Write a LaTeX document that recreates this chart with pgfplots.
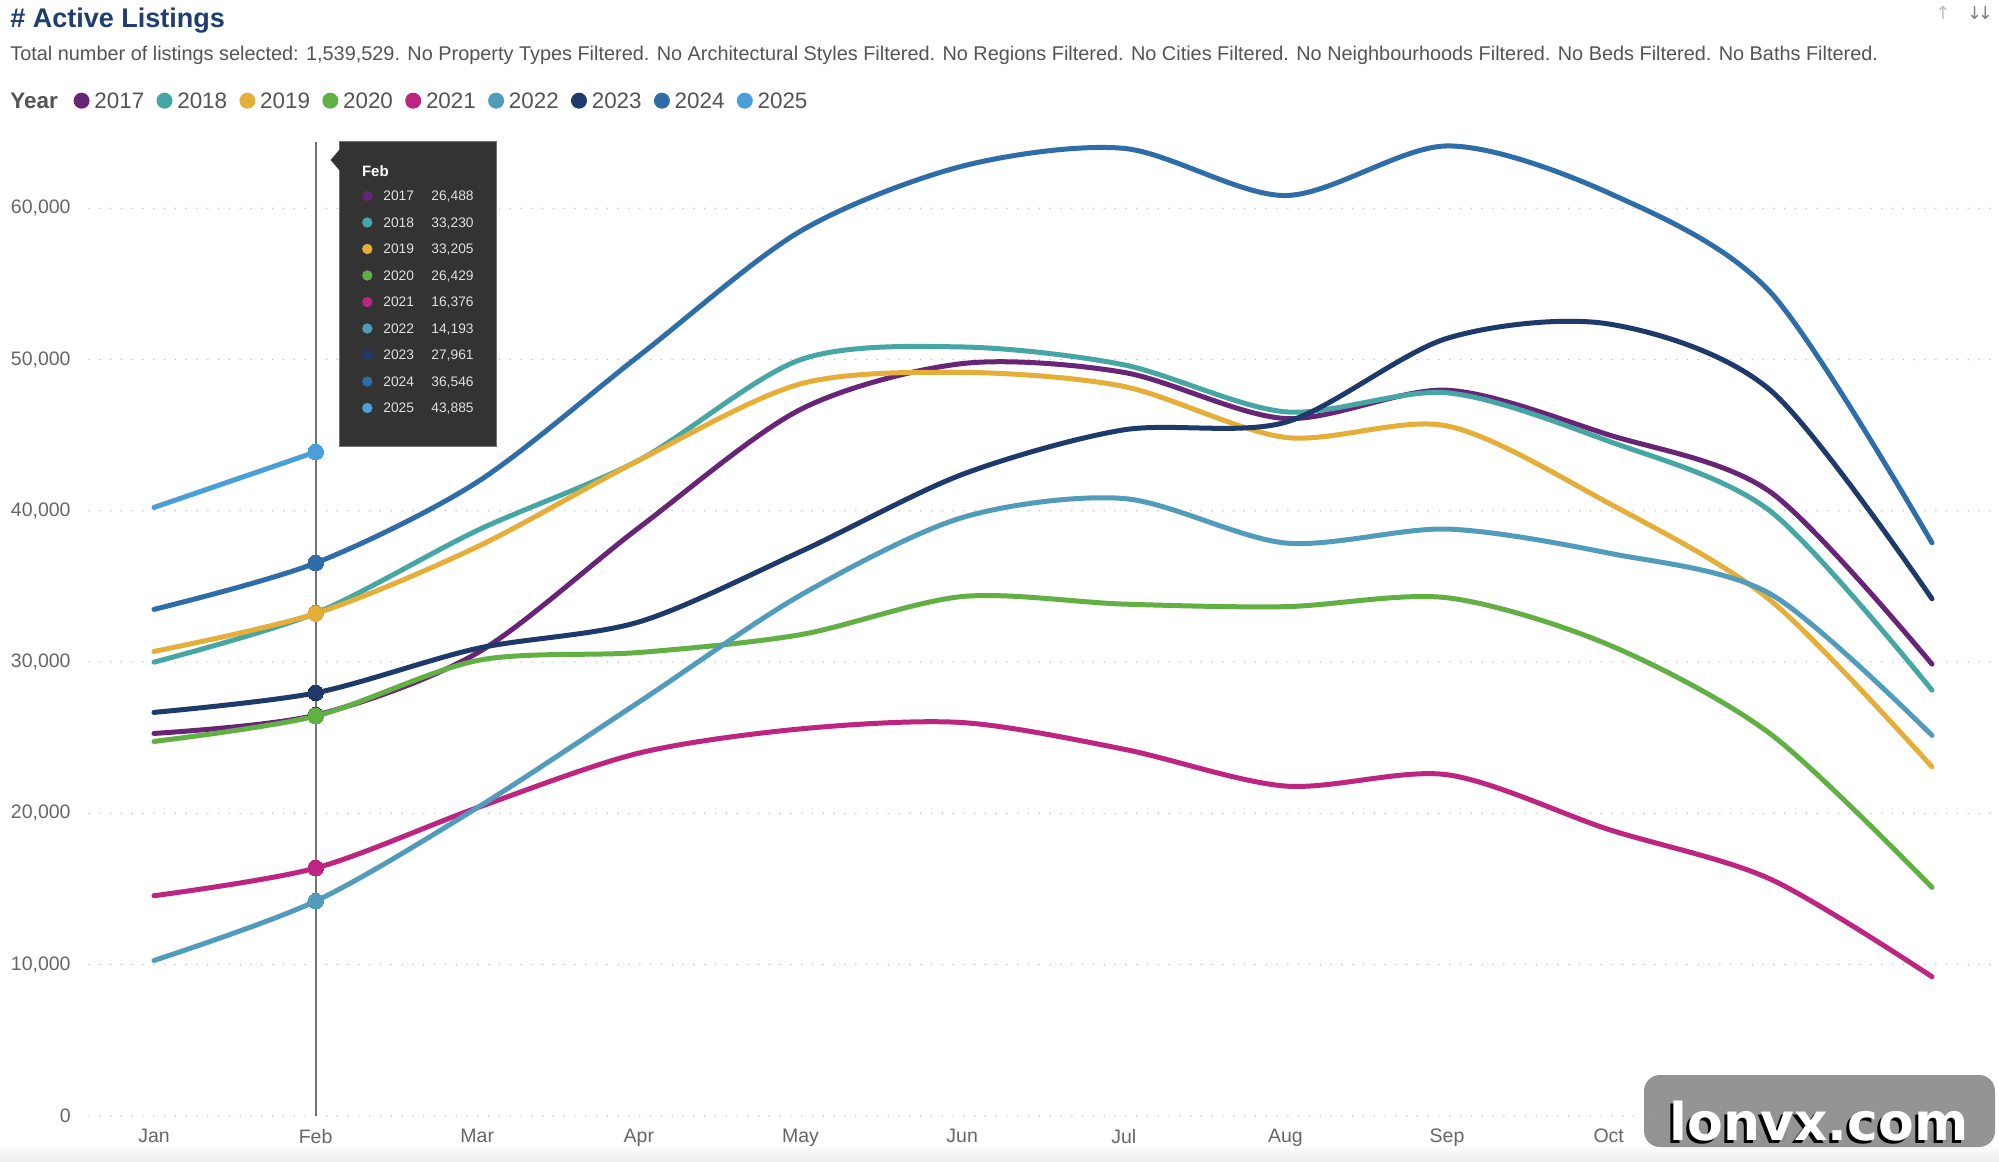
\documentclass[border=0pt]{standalone}
\usepackage{fontspec}
\setmainfont{Liberation Sans}
\newfontfamily\dejavu{DejaVu Sans}
\usepackage{pgfplots}
\usepackage{pgfplotstable}
\pgfplotsset{compat=1.18}

\definecolor{c2017}{HTML}{682477}
\definecolor{c2018}{HTML}{46A6A3}
\definecolor{c2019}{HTML}{E5AE38}
\definecolor{c2020}{HTML}{62B044}
\definecolor{c2021}{HTML}{BE2581}
\definecolor{c2022}{HTML}{519CBB}
\definecolor{c2023}{HTML}{1D3A6B}
\definecolor{c2024}{HTML}{2F6DA8}
\definecolor{c2025}{HTML}{4A9FD8}
\definecolor{titleblue}{HTML}{1F3D6E}
\definecolor{tipbg}{HTML}{333333}

% Monthly active listings, one column per year (m = month index, Jan = 0)
\pgfplotstableread{
m  y2017 y2018 y2019 y2020 y2021 y2022 y2023 y2024
0  25280 29990 30700 24750 14550 10270 26670 33480
1  26488 33230 33205 26429 16376 14193 27961 36546
2  30600 38700 37620 30100 20370 20370 30900 41900
3  38880 43340 43340 30630 23980 27350 32650 50240
4  46700 49990 48390 31810 25580 34420 37300 58490
5  49730 50830 49150 34330 26000 39550 42400 62780
6  49150 49650 48220 33830 24240 40810 45350 63960
7  46100 46540 44850 33660 21800 37870 45850 60840
8  47970 47800 45610 34250 22550 38790 51400 64120
9  45020 44600 40500 31140 18930 37200 52350 61010
10 41240 39970 34080 25250 15650 34500 47970 54450
11 29860 28140 23070 15100  9195 25150 34180 37880
}\listings

\pgfplotstableread{
m  y2025
0  40220
1  43885
}\listingsnew

\pgfplotsset{
  yearline/.style={color=#1, line width=2.5bp, line cap=round, line join=round,
    smooth, mark=*, mark indices={2}, mark size=3.9bp,
    mark options={fill=#1, draw=#1, line width=0pt}},
}

\begin{document}
\begin{tikzpicture}[x=1bp,y=1bp]
\useasboundingbox (0,0) rectangle (999.5,-581);
\fill[white] (0,0) rectangle (999.5,-581);
\shade[top color=white, bottom color=black!7] (0,-572) rectangle (999.5,-581);

% header
\node[anchor=base west, inner sep=0pt, text=titleblue,
  font=\bfseries\fontsize{13.5bp}{16bp}\selectfont] at (5,-14) {\# Active Listings};
\node[anchor=base west, inner sep=0pt, text=black!67,
  font=\fontsize{9.94bp}{11bp}\selectfont] at (5,-30.25)
  {Total number of listings selected: 1,539,529. No Property Types Filtered. No Architectural Styles Filtered. No Regions Filtered. No Cities Filtered. No Neighbourhoods Filtered. No Beds Filtered. No Baths Filtered.};
\node[anchor=center, inner sep=0pt, text=black!25, font=\dejavu\fontsize{9bp}{10bp}\selectfont] at (971.5,-6.5) {↑};
\node[anchor=center, inner sep=0pt, text=black!50, font=\dejavu\fontsize{9bp}{10bp}\selectfont] at (990,-6.5) {↓\kern-2.2bp↓};

% legend row
\node[anchor=base west, inner sep=0pt, text=black!67,
  font=\bfseries\fontsize{11.2bp}{13bp}\selectfont] at (5,-54.35) {Year};
\foreach \yr [count=\k from 0] in {2017,2018,2019,2020,2021,2022,2023,2024,2025}{
  \fill[c\yr] ({40.8+41.45*\k},-50.35) circle (4bp);
  \node[anchor=base west, inner sep=0pt, text=black!67,
    font=\fontsize{11.2bp}{13bp}\selectfont] at ({47+41.45*\k},-54.35) {\yr};
}

\begin{axis}[
  at={(44.5bp,-557.9bp)}, anchor=south west, scale only axis,
  width=953bp, height=487.05bp,
  xmin=-0.402, xmax=11.39, ymin=0, ymax=64400,
  axis x line*=bottom, axis y line*=left,
  axis line style={draw=none}, tick style={draw=none},
  major tick length=0pt,
  xtick={0,...,11},
  xticklabels={Jan,Feb,Mar,Apr,May,Jun,Jul,Aug,Sep,Oct,Nov,Dec},
  ytick={0,10000,...,60000},
  scaled y ticks=false,
  /pgf/number format/1000 sep={,},
  /pgf/number format/assume math mode=true,
  ymajorgrids,
  grid style={color=black!28, line width=0.75bp, line cap=round, dash pattern=on 0bp off 5.4bp},
  yticklabel style={anchor=east, inner sep=0pt, xshift=-9bp, text=black!60,
    font=\fontsize{9.75bp}{11bp}\selectfont},
  xticklabel style={anchor=north, inner sep=0pt, yshift=-6.5bp, text=black!60,
    font=\fontsize{9.75bp}{11bp}\selectfont},
  clip=false,
]
% hover rule at February
\addplot[color=black!55, line width=1bp, forget plot] coordinates {(1,0) (1,64400)};

\addplot[yearline=c2017] table[x=m, y=y2017] {\listings};
\addplot[yearline=c2018] table[x=m, y=y2018] {\listings};
\addplot[yearline=c2019] table[x=m, y=y2019] {\listings};
\addplot[yearline=c2020] table[x=m, y=y2020] {\listings};
\addplot[yearline=c2021] table[x=m, y=y2021] {\listings};
\addplot[yearline=c2022] table[x=m, y=y2022] {\listings};
\addplot[yearline=c2023] table[x=m, y=y2023] {\listings};
\addplot[yearline=c2024] table[x=m, y=y2024] {\listings};
\addplot[yearline=c2025] table[x=m, y=y2025] {\listingsnew};
\end{axis}

% tooltip for February
\fill[tipbg, draw=black!55, line width=0.4bp] (169.5,-70.75) rectangle (248,-223);
\fill[tipbg] (165.3,-80) -- (170,-74.5) -- (170,-85.5) -- cycle;
\node[anchor=base west, inner sep=0pt, text=white,
  font=\bfseries\fontsize{7.5bp}{9bp}\selectfont] at (180.8,-88.2) {Feb};
\foreach \yr/\val [count=\k from 0] in {2017/{26,488},2018/{33,230},2019/{33,205},2020/{26,429},2021/{16,376},2022/{14,193},2023/{27,961},2024/{36,546},2025/{43,885}}{
  \fill[c\yr] (183.65,{-98-13.25*\k}) circle (2.6bp);
  \node[anchor=base west, inner sep=0pt, text=black!12,
    font=\fontsize{6.9bp}{8bp}\selectfont] at (191.5,{-100.5-13.25*\k}) {\yr};
  \node[anchor=base east, inner sep=0pt, text=black!12,
    font=\fontsize{6.9bp}{8bp}\selectfont] at (237,{-100.5-13.25*\k}) {\val};
}

% site badge
\fill[black!45, opacity=0.93, rounded corners=8bp] (822,-537.5) rectangle (997.5,-573.5);
\node[anchor=base, inner sep=0pt, text=black,
  font=\dejavu\bfseries\fontsize{26bp}{30bp}\selectfont] at (908,-571.6) {lonvx.com};
\node[anchor=base, inner sep=0pt, text=white,
  font=\dejavu\bfseries\fontsize{26bp}{30bp}\selectfont] at (909.5,-570) {lonvx.com};
\end{tikzpicture}
\end{document}
